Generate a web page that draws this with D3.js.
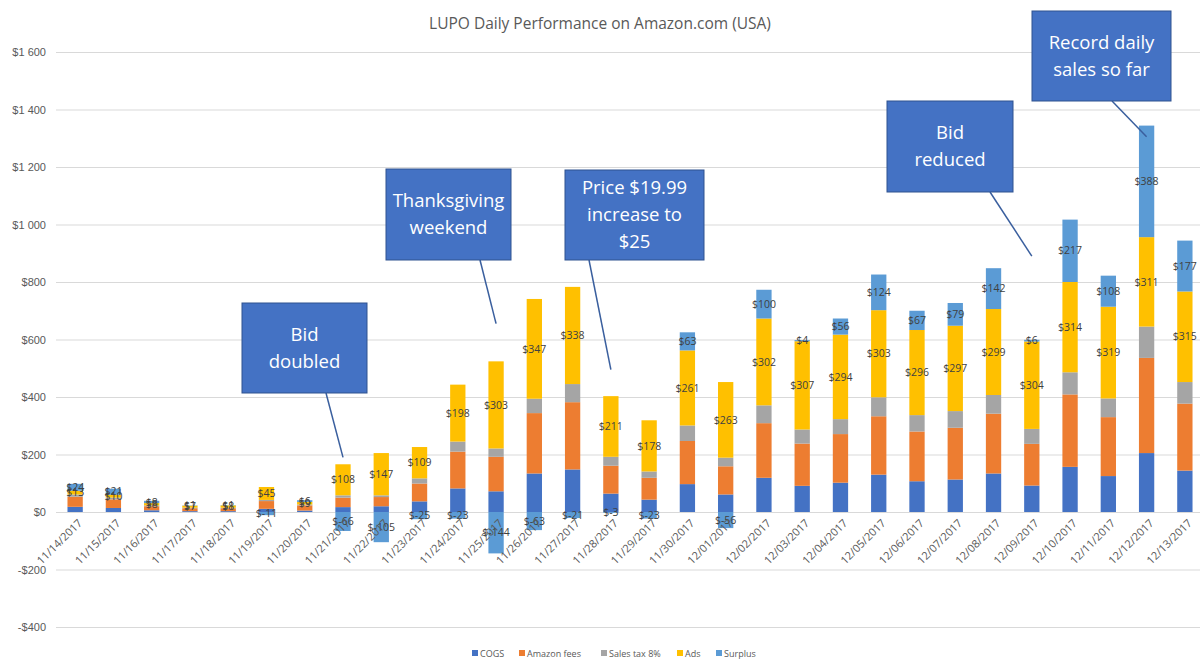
<!DOCTYPE html>
<html>
<head>
<meta charset="utf-8">
<script src="https://cdn.jsdelivr.net/npm/d3@7"></script>
<style>
  html, body { margin: 0; padding: 0; background: #fff; }
  svg { display: block; font-family: "Open Sans", sans-serif; }
  .grid line { stroke: #d9d9d9; stroke-width: 1; }
  .tick-label { fill: #595959; font-size: 11px; }
  .data-label { fill: #404040; font-size: 10.5px; }
  .callout text { fill: #fff; font-size: 18.5px; }
</style>
</head>
<body>
<div id="chart"></div>
<script>
"use strict";

// ---- data ----
const dates = [
  "11/14/2017", "11/15/2017", "11/16/2017", "11/17/2017", "11/18/2017",
  "11/19/2017", "11/20/2017", "11/21/2017", "11/22/2017", "11/23/2017",
  "11/24/2017", "11/25/2017", "11/26/2017", "11/27/2017", "11/28/2017",
  "11/29/2017", "11/30/2017", "12/01/2017", "12/02/2017", "12/03/2017",
  "12/04/2017", "12/05/2017", "12/06/2017", "12/07/2017", "12/08/2017",
  "12/09/2017", "12/10/2017", "12/11/2017", "12/12/2017", "12/13/2017"
];
const cogs = [18, 14, 6, 3, 3, 11, 5, 17, 20, 37, 82, 72, 134, 148, 64, 43, 97, 61, 119, 91, 102, 130, 107, 113, 134, 92, 157, 125, 205, 144];
const amazonFees = [35, 30, 14, 10, 10, 27, 18, 33, 32, 62, 128, 120, 210, 234, 97, 76, 150, 98, 190, 147, 169, 203, 173, 180, 208, 145, 252, 205, 331, 233];
const salesTax = [8, 6, 3, 2, 2, 4, 3, 8, 6, 18, 35, 29, 50, 63, 31, 22, 54, 30, 62, 49, 52, 66, 57, 58, 65, 52, 77, 65, 109, 75];
const ads = [13, 10, 8, 7, 8, 45, 9, 108, 147, 109, 198, 303, 347, 338, 211, 178, 261, 263, 302, 307, 294, 303, 296, 297, 299, 304, 314, 319, 311, 315];
const surplus = [24, 21, 8, 1, 1, -11, 6, -66, -105, -25, -23, -144, -63, -21, -3, -23, 63, -56, 100, 4, 56, 124, 67, 79, 142, 6, 217, 108, 388, 177];

const seriesNames = ["COGS", "Amazon fees", "Sales tax 8%", "Ads", "Surplus"];
const seriesColors = ["#4472C4", "#ED7D31", "#A5A5A5", "#FFC000", "#5B9BD5"];
const labelledSeries = ["Ads", "Surplus"];
const yTicks = [-400, -200, 0, 200, 400, 600, 800, 1000, 1200, 1400, 1600];

const callouts = [
  { lines: ["Bid", "doubled"], date: "11/21/2017", value: 190 },
  { lines: ["Thanksgiving", "weekend"], date: "11/25/2017", value: 655 },
  { lines: ["Price $19.99", "increase to", "$25"], date: "11/28/2017", value: 495 },
  { lines: ["Bid", "reduced"], date: "12/09/2017", value: 890 },
  { lines: ["Record daily", "sales so far"], date: "12/12/2017", value: 1305 }
];
// box placement in px: [x, y, w, h, pointer start x]
const calloutBoxes = [
  [242, 303, 125, 90, 326],
  [386, 169, 125, 91, 480],
  [565, 170, 139, 90, 589],
  [887, 101, 126, 91, 990],
  [1032, 11, 139, 90, 1112]
];

// ---- layout ----
const width = 1200;
const height = 661;
const plot = { left: 56, right: 1204, top: 52, bottom: 627 };

const rows = dates.map((d, i) => ({
  date: d,
  "COGS": cogs[i],
  "Amazon fees": amazonFees[i],
  "Sales tax 8%": salesTax[i],
  "Ads": ads[i],
  "Surplus": surplus[i]
}));

const svg = d3.select("#chart").append("svg")
  .attr("width", width)
  .attr("height", height);

const x = d3.scaleBand()
  .domain(dates)
  .range([plot.left, plot.right])
  .paddingInner(0.6)
  .paddingOuter(0.3);

const y = d3.scaleLinear()
  .domain([-400, 1600])
  .range([plot.bottom, plot.top]);

const color = d3.scaleOrdinal().domain(seriesNames).range(seriesColors);

const money = d3.formatLocale({
  decimal: ".", thousands: "\u00a0", grouping: [3], currency: ["$", ""], minus: "-"
}).format("$,");

// title
svg.append("text")
  .attr("x", 600)
  .attr("y", 29)
  .attr("text-anchor", "middle")
  .attr("fill", "#595959")
  .style("font-size", "15.5px")
  .text("LUPO Daily Performance on Amazon.com (USA)");

// gridlines + y labels
const yAxis = d3.axisLeft(y)
  .tickValues(yTicks)
  .tickSize(-(width - plot.left))
  .tickPadding(10)
  .tickFormat(money);

const gy = svg.append("g")
  .attr("class", "grid")
  .attr("transform", `translate(${plot.left},0)`)
  .call(yAxis);
gy.select(".domain").remove();
gy.selectAll("text").attr("class", "tick-label").attr("fill", null);

// stacked bars (positive and negative stacked separately)
const stacked = d3.stack()
  .keys(seriesNames)
  .offset(d3.stackOffsetDiverging)(rows);

const layers = svg.append("g").selectAll("g.layer")
  .data(stacked)
  .join("g")
  .attr("class", "layer")
  .attr("fill", d => color(d.key));

layers.selectAll("rect")
  .data(d => d)
  .join("rect")
  .attr("x", d => x(d.data.date))
  .attr("width", x.bandwidth())
  .attr("y", d => y(Math.max(d[0], d[1])))
  .attr("height", d => Math.abs(y(d[0]) - y(d[1])));

// data labels for Ads and Surplus
const labelLayers = svg.append("g").selectAll("g")
  .data(stacked.filter(s => labelledSeries.includes(s.key)))
  .join("g");

labelLayers.selectAll("text")
  .data(s => s.map(d => ({ d, key: s.key })))
  .join("text")
  .attr("class", "data-label")
  .attr("x", o => x(o.d.data.date) + x.bandwidth() / 2)
  .attr("y", o => y((o.d[0] + o.d[1]) / 2))
  .attr("dy", "0.35em")
  .attr("text-anchor", "middle")
  .text(o => "$" + o.d.data[o.key]);

// x labels, rotated
svg.append("g").selectAll("text")
  .data(dates)
  .join("text")
  .attr("class", "tick-label")
  .attr("text-anchor", "end")
  .attr("transform", d => `translate(${x(d) + x.bandwidth() / 2 + 5},${y(0) + 9}) rotate(-45)`)
  .attr("dy", "0.35em")
  .text(d => d);

// callouts
const cg = svg.append("g").attr("class", "callout");
callouts.forEach((c, i) => {
  const [bx, by, bw, bh, px] = calloutBoxes[i];
  cg.append("line")
    .attr("x1", px).attr("y1", by + bh)
    .attr("x2", x(c.date) + x.bandwidth() / 2)
    .attr("y2", y(c.value))
    .attr("stroke", "#3A5F9E")
    .attr("stroke-width", 1.5);
  cg.append("rect")
    .attr("x", bx).attr("y", by)
    .attr("width", bw).attr("height", bh)
    .attr("fill", "#4472C4")
    .attr("stroke", "#2F528F")
    .attr("stroke-width", 1);
  const lh = 27;
  const y0 = by + bh / 2 - (c.lines.length - 1) * lh / 2;
  c.lines.forEach((line, k) => {
    cg.append("text")
      .attr("x", bx + bw / 2)
      .attr("y", y0 + k * lh)
      .attr("dy", "0.35em")
      .attr("text-anchor", "middle")
      .text(line);
  });
});

// legend
const legendX = [472, 519, 601, 677, 716];
const legend = svg.append("g").selectAll("g")
  .data(seriesNames)
  .join("g")
  .attr("transform", (d, i) => `translate(${legendX[i]},654)`);
legend.append("rect")
  .attr("x", 0).attr("y", -4)
  .attr("width", 6).attr("height", 6)
  .attr("fill", d => color(d));
legend.append("text")
  .attr("x", 8)
  .attr("y", 0)
  .attr("dy", "0.3em")
  .attr("fill", "#595959")
  .style("font-size", "9px")
  .text(d => d);
</script>
</body>
</html>
